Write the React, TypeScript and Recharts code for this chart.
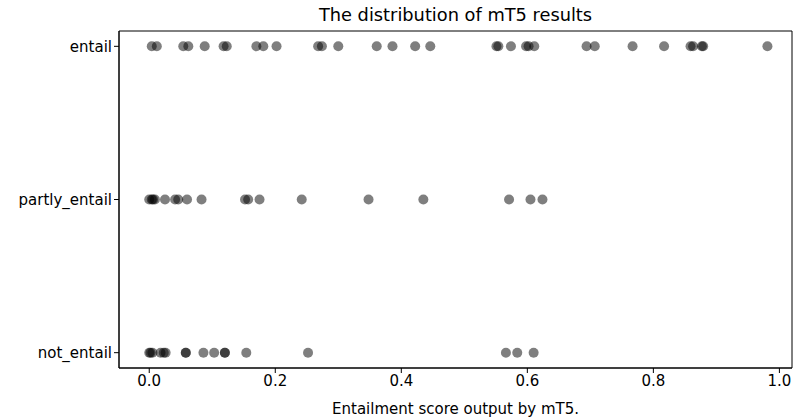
import { ReferenceArea, Scatter, ScatterChart, XAxis, YAxis } from "recharts";

const categories = ["not_entail", "partly_entail", "entail"];

const entailScores = [
  0.004, 0.012, 0.054, 0.062, 0.088, 0.118, 0.123, 0.17, 0.181, 0.202, 0.268, 0.274, 0.3, 0.361,
  0.386, 0.422, 0.446, 0.551, 0.554, 0.574, 0.598, 0.602, 0.611, 0.694, 0.707, 0.767, 0.817, 0.859,
  0.863, 0.877, 0.879, 0.981,
];

const partlyScores = [
  0.0, 0.004, 0.006, 0.009, 0.025, 0.041, 0.046, 0.06, 0.083, 0.152, 0.157, 0.175, 0.242, 0.348,
  0.435, 0.571, 0.605, 0.624,
];

const notEntailScores = [
  0.0, 0.002, 0.005, 0.018, 0.023, 0.026, 0.058, 0.058, 0.086, 0.103, 0.12, 0.12, 0.154, 0.252,
  0.566, 0.584, 0.61,
];

const xTicks = [0, 0.2, 0.4, 0.6, 0.8, 1.0];
const xDomain: [number, number] = [-0.048, 1.02];
const yDomain: [number, number] = [-0.1, 2.1];

const points = [
  ...notEntailScores.map((x) => ({ x, y: 0 })),
  ...partlyScores.map((x) => ({ x, y: 1 })),
  ...entailScores.map((x) => ({ x, y: 2 })),
];

const font = "DejaVu Sans, sans-serif";

const Dot = (props: any) => (
  <circle cx={props.cx} cy={props.cy} r={5} fill="#000" fillOpacity={0.5} />
);

export default function App() {
  return (
    <div style={{ position: "absolute", left: 0, top: 0, width: 794, height: 418, background: "#fff" }}>
      <div
        style={{
          position: "absolute",
          left: 119,
          width: 673,
          top: 4,
          textAlign: "center",
          fontFamily: font,
          fontSize: 17.8,
          color: "#000",
        }}
      >
        The distribution of mT5 results
      </div>
      <ScatterChart width={794} height={418} margin={{ top: 31, right: 2, bottom: 0, left: 0 }}>
        <XAxis
          type="number"
          dataKey="x"
          domain={xDomain}
          ticks={xTicks}
          allowDataOverflow
          tickFormatter={(v: number) => v.toFixed(1)}
          height={50}
          stroke="#000"
          tick={{ fill: "#000", fontSize: 15, fontFamily: font }}
          tickSize={5}
          label={{
            value: "Entailment score output by mT5.",
            position: "insideBottom",
            offset: 4,
            fill: "#000",
            fontSize: 15,
            fontFamily: font,
          }}
        />
        <YAxis
          type="number"
          dataKey="y"
          domain={yDomain}
          ticks={[0, 1, 2]}
          allowDataOverflow
          tickFormatter={(v: number) => categories[v]}
          width={119}
          stroke="#000"
          tick={{ fill: "#000", fontSize: 15, fontFamily: font }}
          tickSize={5}
        />
        <ReferenceArea
          x1={xDomain[0]}
          x2={xDomain[1]}
          y1={yDomain[0]}
          y2={yDomain[1]}
          fill="none"
          stroke="#000"
          strokeWidth={1}
          fillOpacity={0}
        />
        <Scatter data={points} shape={Dot} isAnimationActive={false} />
      </ScatterChart>
    </div>
  );
}
